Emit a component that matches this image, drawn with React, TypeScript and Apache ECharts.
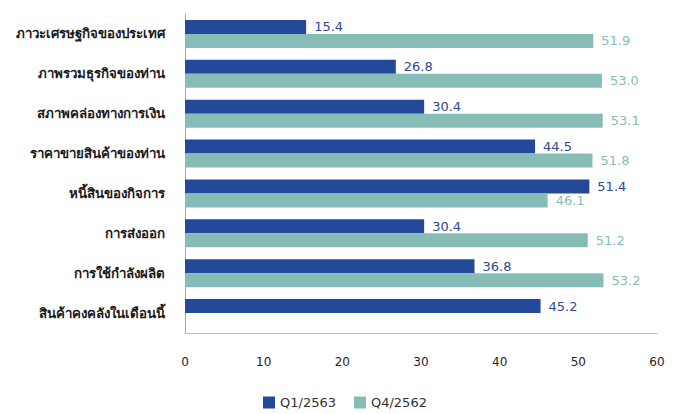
import React, { useEffect, useRef } from "react";
import * as echarts from "echarts";

const categories = [
  "ภาวะเศรษฐกิจของประเทศ",
  "ภาพรวมธุรกิจของท่าน",
  "สภาพคล่องทางการเงิน",
  "ราคาขายสินค้าของท่าน",
  "หนี้สินของกิจการ",
  "การส่งออก",
  "การใช้กำลังผลิต",
  "สินค้าคงคลังในเดือนนี้",
];
const q1_2563 = [15.4, 26.8, 30.4, 44.5, 51.4, 30.4, 36.8, 45.2];
const q4_2562: (number | null)[] = [51.9, 53.0, 53.1, 51.8, 46.1, 51.2, 53.2, null];
const seriesNames = ["Q1/2563", "Q4/2562"];

const DARK = "#24489A";
const TEAL = "#86BDB6";
const FONT = "Tahoma, 'DejaVu Sans', 'Noto Sans', sans-serif";

export default function App() {
  const ref = useRef<HTMLDivElement>(null);
  useEffect(() => {
    if (!ref.current) return;
    const chart = echarts.init(ref.current, undefined, { renderer: "svg" });
    const fmt = (p: any) => (p.value == null ? "" : Number(p.value).toFixed(1));
    chart.setOption({
      animation: false,
      backgroundColor: "#ffffff",
      textStyle: { fontFamily: FONT },
      grid: { left: 185, right: 23, top: 14, bottom: 81, containLabel: false, outerBoundsMode: "none" },
      legend: {
        bottom: 0,
        left: 258,
        itemWidth: 12,
        itemHeight: 12,
        itemGap: 18,
        icon: "rect",
        textStyle: { fontSize: 13, color: "#333", fontFamily: FONT },
        data: seriesNames,
      },
      xAxis: {
        type: "value",
        min: 0,
        max: 60,
        interval: 10,
        axisLine: { show: true, lineStyle: { color: "#BFBFBF", width: 1 } },
        axisTick: { show: false },
        splitLine: { show: false },
        axisLabel: { margin: 23, fontSize: 12, color: "#222", fontFamily: FONT },
      },
      yAxis: {
        type: "category",
        inverse: true,
        data: categories,
        axisLine: { show: true, lineStyle: { color: "#A6A6A6", width: 1 } },
        axisTick: { show: false },
        axisLabel: { margin: 20, fontSize: 13.3, color: "#1a1a1a", fontWeight: "bold", fontFamily: FONT },
      },
      series: [
        {
          name: seriesNames[0],
          type: "bar",
          data: q1_2563,
          barWidth: 14,
          barGap: "0%",
          itemStyle: { color: DARK },
          label: { show: true, position: "right", distance: 8, color: "#2E4A94", fontSize: 13, fontFamily: FONT, formatter: fmt },
        },
        {
          name: seriesNames[1],
          type: "bar",
          data: q4_2562,
          barWidth: 14,
          barGap: "0%",
          itemStyle: { color: TEAL },
          label: { show: true, position: "right", distance: 8, color: "#86BDB6", fontSize: 13, fontFamily: FONT, formatter: fmt },
        },
      ],
    });
    return () => chart.dispose();
  }, []);
  return <div ref={ref} style={{ width: 680, height: 414, position: "absolute", left: 0, top: 0 }} />;
}
